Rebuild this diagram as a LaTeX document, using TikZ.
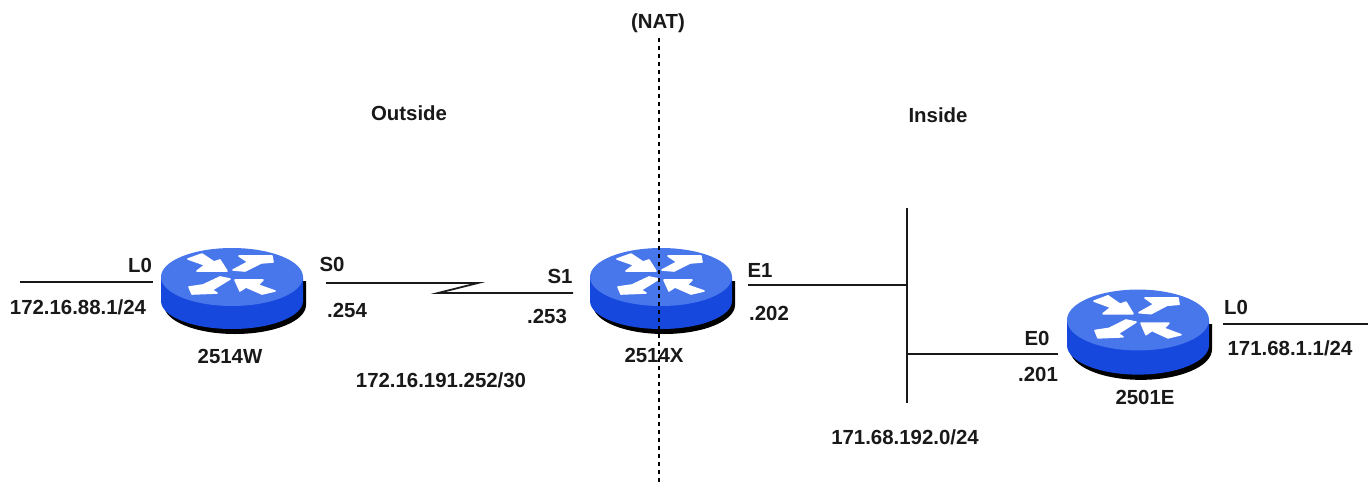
\documentclass[tikz,border=0pt]{standalone}
\usepackage{fontspec}
\setmainfont{Liberation Sans}
\definecolor{rtop}{RGB}{72,118,235}
\definecolor{rside}{RGB}{22,72,222}
\tikzset{
  x=0.75pt,y=-0.75pt,
  lbl/.style={inner sep=0,font=\fontsize{15.3pt}{17pt}\bfseries,text=black!90},
  wire/.style={line width=1.3pt,black!90},
  rarrow/.style={fill=white,draw=white,line width=1.2pt,line join=round},
  pics/router/.style={code={
    \fill[black] (-68,4) -- (-68,28) arc[start angle=180,end angle=0,x radius=71,y radius=29] -- (74,4) -- cycle;
    \fill[rside] (-71,0) -- (-71,24) arc[start angle=180,end angle=0,x radius=71,y radius=28] -- (71,0) -- cycle;
    \fill[rtop] (0,0) ellipse[x radius=71,y radius=29];
    \path[rarrow] (-44,-18) -- (-30,-23) -- (-18,-15) -- (-12,-17) -- (-5,-6) -- (-35,-6) -- (-27,-12) -- cycle;
    \path[rarrow] (7,-21) -- (40,-21) -- (41,-15) -- (29,-14) -- (13,-6) -- (1,-7) -- (16,-15) -- cycle;
    \path[rarrow] (-12,0) -- (-2,2) -- (-20,13) -- (-15,16) -- (-40,17) -- (-43,10) -- (-29,8) -- cycle;
    \path[rarrow] (3,3) -- (31,3) -- (26,8) -- (43,14) -- (30,17) -- (14,10) -- (8,14) -- cycle;
  }}
}
\begin{document}
\begin{tikzpicture}
\useasboundingbox[fill=white] (0,0) rectangle (1372,483);
\pic at (232,277) {router};
\pic at (661,277) {router};
\pic[yscale=1.05] at (1138,320) {router};
\coordinate (natT) at (659,38);
\coordinate (natB) at (659,482);
\draw[line width=1.3pt,black,dash pattern=on 3pt off 3pt] (natT) -- (natB);
\coordinate (a1) at (20,282); \coordinate (a2) at (153,282);
\draw[wire] (a1) -- (a2);
\coordinate (b1) at (326,283); \coordinate (b2) at (478,283); \coordinate (b3) at (438,293); \coordinate (b4) at (573,293);
\draw[wire] (b1) -- (b2) -- (b3) -- (b4);
\coordinate (c1) at (748,285); \coordinate (c2) at (907,285);
\draw[wire] (c1) -- (c2);
\coordinate (d1) at (907,208); \coordinate (d2) at (907,403);
\draw[wire] (d1) -- (d2);
\coordinate (e1) at (907,354); \coordinate (e2) at (1058,354);
\draw[wire] (e1) -- (e2);
\coordinate (f1) at (1223,324); \coordinate (f2) at (1368,324);
\draw[wire] (f1) -- (f2);
\node[lbl] (nat) at (658,23) {(NAT)};
\node[lbl] (out) at (409,113) {Outside};
\node[lbl] (ins) at (938,115) {Inside};
\node[lbl] (l0a) at (140,265) {L0};
\node[lbl] (ipa) at (78,307) {172.16.88.1/24};
\node[lbl] (s0) at (332,264) {S0};
\node[lbl] (p254) at (347,310) {.254};
\node[lbl] (rw) at (230,356) {2514W};
\node[lbl] (s1) at (560,276) {S1};
\node[lbl] (p253) at (547,316) {.253};
\node[lbl] (net1) at (441,380) {172.16.191.252/30};
\node[lbl] (rx) at (654,355) {2514X};
\node[lbl] (e1l) at (760,270) {E1};
\node[lbl] (p202) at (769,313) {.202};
\node[lbl] (e0l) at (1037,338) {E0};
\node[lbl] (p201) at (1038,374) {.201};
\node[lbl] (re) at (1145,397) {2501E};
\node[lbl] (l0b) at (1236,307) {L0};
\node[lbl] (ipb) at (1290,348) {171.68.1.1/24};
\node[lbl] (net2) at (905,437) {171.68.192.0/24};
\end{tikzpicture}
\end{document}
